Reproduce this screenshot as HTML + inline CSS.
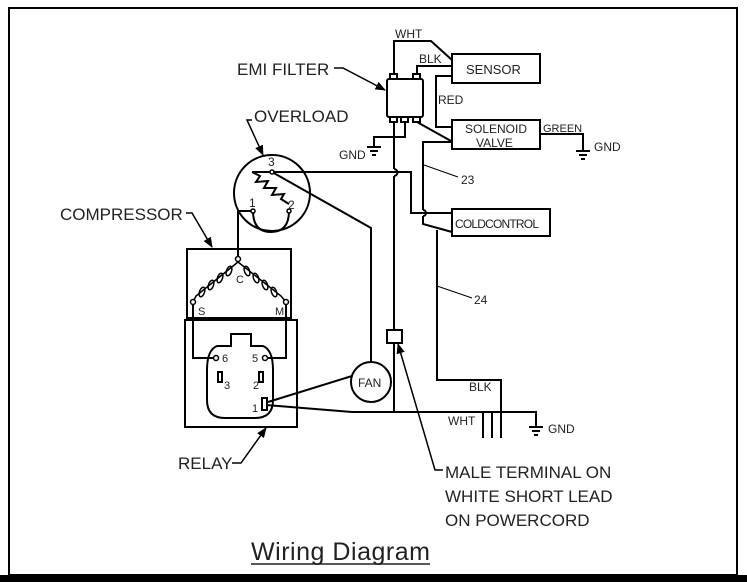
<!DOCTYPE html>
<html><head><meta charset="utf-8"><style>
html,body{margin:0;padding:0;background:#fff;}
svg{display:block;}
text{font-family:"Liberation Sans",sans-serif;fill:#222;}
</style></head><body>
<svg width="747" height="582" viewBox="0 0 747 582" xmlns="http://www.w3.org/2000/svg">
<defs><marker id="ar" viewBox="0 0 10 10" refX="9" refY="5" markerWidth="7" markerHeight="7" orient="auto"><path d="M0,1 L10,5 L0,9 z" fill="#000"/></marker></defs>
<rect x="9" y="8" width="728" height="567" fill="none" stroke="#000" stroke-width="2"/>
<rect x="0" y="575" width="747" height="7" fill="#000"/>
<g stroke="#000" stroke-width="2" fill="none">
<rect x="387" y="79" width="36" height="38" rx="2"/>
<rect x="390" y="74" width="7" height="5"/><rect x="413" y="74" width="7" height="5"/>
<rect x="390" y="117" width="7" height="5"/><rect x="401" y="117" width="7" height="5"/><rect x="413" y="117" width="7" height="5"/>
<polyline points="394,74 394,41 431,41 452,60"/>
<polyline points="417,74 417,66 452,66"/>
<rect x="452" y="54" width="88" height="29"/>
<polyline points="452,76 436,76 436,127 452,127"/>
<rect x="452" y="120" width="88" height="29"/>
<line x1="417" y1="122" x2="451" y2="141"/>
<polyline points="452,142 423,142 423,210"/>
<path d="M423,210 a3,3 0 0 1 0,6"/>
<polyline points="423,216 423,224 452,232"/>
<rect x="452" y="209" width="98" height="27"/>
<polyline points="540,134 583,134 583,150"/>
<line x1="576" y1="151" x2="590" y2="151"/><line x1="579" y1="155" x2="587" y2="155"/><line x1="581" y1="159" x2="585" y2="159"/>
<polyline points="405,122 405,137 374,137 374,146"/>
<line x1="367" y1="147" x2="381" y2="147"/><line x1="370" y1="151" x2="378" y2="151"/><line x1="372" y1="155" x2="376" y2="155"/>
<polyline points="394,122 394,169"/>
<path d="M394,169 a3,3 0 0 1 0,7"/>
<polyline points="394,176 394,412"/>
<rect x="387" y="330" width="15" height="13" fill="#fff"/>
<polyline points="252,172 411,172 411,213 452,213"/>
<polyline points="272,172 371,228 371,362"/>
<polyline points="437,230 437,380 501,380 501,438"/>
<line x1="437" y1="286" x2="472" y2="298" stroke-width="1"/>
<line x1="424" y1="165" x2="458" y2="177" stroke-width="1"/>
<polyline points="266,405 352,412 536,412 536,426"/>
<line x1="529" y1="427" x2="543" y2="427"/><line x1="532" y1="431" x2="540" y2="431"/><line x1="534" y1="435" x2="538" y2="435"/>
<line x1="483" y1="412" x2="483" y2="438"/><line x1="492" y1="413" x2="492" y2="438"/>
<circle cx="371" cy="382" r="20"/>
<line x1="268" y1="402" x2="352" y2="376"/>
<circle cx="272" cy="193" r="38"/>
<polyline points="252,172 260,176 256,182 268,181 264,188 276,188 272,195 284,194 281,199 289,204"/>
<path d="M253,211 Q253,232 271,232 Q289,232 289,211"/>
<polyline points="253,211 238,211 238,258"/>
<rect x="187" y="249" width="104" height="69"/>
<polyline points="238,262 196,296 193,302" stroke-width="1.5"/>
<polyline points="238,262 281,296 286,302" stroke-width="1.5"/>
<g stroke-width="1.5">
<ellipse cx="229" cy="271" rx="2.5" ry="5" transform="rotate(20 229 271)"/>
<ellipse cx="220" cy="278" rx="2.5" ry="5" transform="rotate(20 220 278)"/>
<ellipse cx="211" cy="285" rx="2.5" ry="5" transform="rotate(20 211 285)"/>
<ellipse cx="202" cy="292" rx="2.5" ry="5" transform="rotate(20 202 292)"/>
<ellipse cx="247" cy="271" rx="2.5" ry="5" transform="rotate(-20 247 271)"/>
<ellipse cx="256" cy="278" rx="2.5" ry="5" transform="rotate(-20 256 278)"/>
<ellipse cx="265" cy="285" rx="2.5" ry="5" transform="rotate(-20 265 285)"/>
<ellipse cx="274" cy="292" rx="2.5" ry="5" transform="rotate(-20 274 292)"/>
</g>
<rect x="185" y="320" width="112" height="107"/>
<polyline points="193,302 193,358 215,358"/>
<polyline points="286,302 286,358 266,358"/>
<path d="M231,346 L231,334 L251,334 L251,346 L263,346 Q273,350 273,370 L273,400 Q273,418 255,418 L225,418 Q207,418 207,400 L207,370 Q207,350 217,346 Z"/>
<rect x="218" y="372" width="4" height="10"/><rect x="259" y="372" width="4" height="10"/><rect x="262" y="398" width="5" height="12"/>
<polyline points="334,68 343,68 385,90" stroke-width="1.5" marker-end="url(#ar)"/>
<polyline points="252,120 247,120 263,155" stroke-width="1.5" marker-end="url(#ar)"/>
<polyline points="186,213 192,213 212,247" stroke-width="1.5" marker-end="url(#ar)"/>
<polyline points="232,463 241,463 266,428" stroke-width="1.5" marker-end="url(#ar)"/>
<polyline points="443,470 435,470 398,344" stroke-width="1.5" marker-end="url(#ar)"/>
</g>
<g fill="#fff" stroke="#000" stroke-width="1.5">
<circle cx="238" cy="259" r="2.5"/><circle cx="193" cy="302" r="2.5"/><circle cx="286" cy="302" r="2.5"/>
<circle cx="216" cy="358" r="2.5"/><circle cx="265" cy="358" r="2.5"/>
<circle cx="272" cy="172" r="2"/><circle cx="253" cy="211" r="2"/><circle cx="289" cy="211" r="2"/>
</g>
<g font-size="12">
<text x="395" y="38">WHT</text><text x="419" y="63">BLK</text>
<text x="438" y="104">RED</text>
<text x="466" y="74" font-size="13">SENSOR</text>
<text x="465" y="133" font-size="12">SOLENOID</text><text x="476" y="147" font-size="12">VALVE</text>
<text x="543" y="132" font-size="11">GREEN</text><text x="594" y="151">GND</text>
<text x="339" y="159">GND</text>
<text x="455" y="228" font-size="12" letter-spacing="-0.8">COLDCONTROL</text>
<text x="461" y="184">23</text><text x="474" y="304">24</text>
<text x="358" y="387">FAN</text>
<text x="469" y="391">BLK</text><text x="448" y="425">WHT</text><text x="548" y="433">GND</text>
<text x="268" y="166">3</text><text x="249" y="207">1</text><text x="288" y="209">2</text>
<text x="236" y="283" font-size="11">C</text><text x="198" y="315" font-size="11">S</text><text x="275" y="315" font-size="11">M</text>
<text x="222" y="362" font-size="11">6</text><text x="252" y="362" font-size="11">5</text>
<text x="224" y="389" font-size="11">3</text><text x="253" y="389" font-size="11">2</text><text x="252" y="412" font-size="11">1</text>
</g>
<g font-size="17">
<text x="237" y="75">EMI FILTER</text>
<text x="254" y="122">OVERLOAD</text>
<text x="60" y="220">COMPRESSOR</text>
<text x="178" y="469">RELAY</text>
<text x="445" y="478">MALE TERMINAL ON</text>
<text x="445" y="502">WHITE SHORT LEAD</text>
<text x="445" y="526">ON POWERCORD</text>
</g>
<text x="251" y="560" font-size="25" textLength="179">Wiring Diagram</text>
<line x1="251" y1="564" x2="430" y2="564" stroke="#222" stroke-width="1.5"/>
</svg>
</body></html>
